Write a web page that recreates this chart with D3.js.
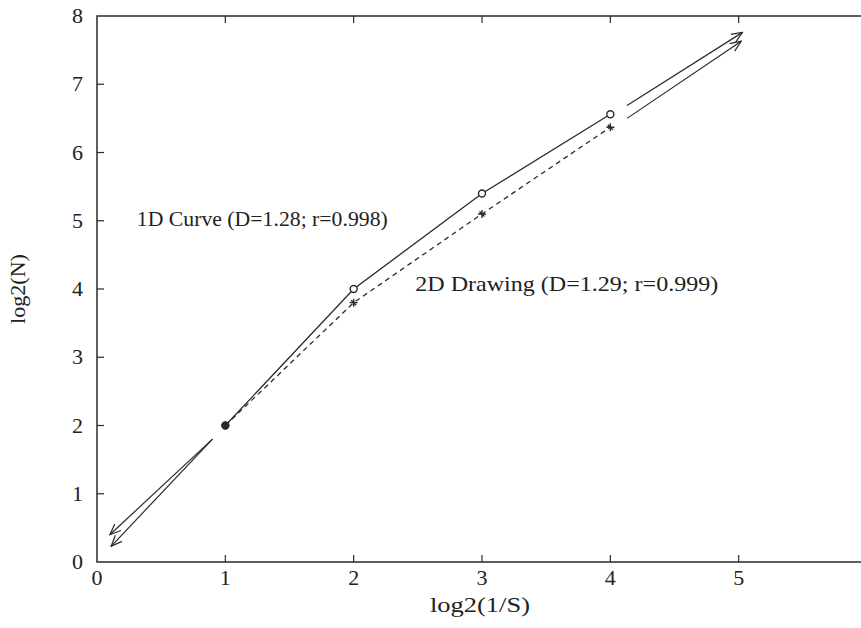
<!DOCTYPE html>
<html>
<head>
<meta charset="utf-8">
<script src="https://cdn.jsdelivr.net/npm/d3@7"></script>
<style>
  html, body { margin: 0; padding: 0; background: #fff; }
  svg { display: block; }
  .tick-label, .axis-title, .note { font-family: "Liberation Serif", "DejaVu Serif", serif; fill: #222; }
</style>
</head>
<body>
<svg id="chart"></svg>
<script>
const WIDTH = 861;
const HEIGHT = 628;

// values
const xTicks = [0, 1, 2, 3, 4, 5];
const yTicks = [0, 1, 2, 3, 4, 5, 6, 7, 8];
const scales = [1, 2, 3, 4];
const curve1D = [2, 4, 5.4, 6.56];
const drawing2D = [2, 3.8, 5.1, 6.37];
// extrapolated fit segments, [x1, y1, x2, y2], arrow at the second end
const fitArrows = [
  [4.13, 6.69, 5.03, 7.76],
  [4.13, 6.50, 5.02, 7.63],
  [0.90, 1.80, 0.10, 0.40],
  [0.90, 1.80, 0.11, 0.23]
];
const notes = [
  { text: "1D Curve (D=1.28; r=0.998)", x: 0.31, y: 4.93, len: 251 },
  { text: "2D Drawing (D=1.29; r=0.999)", x: 2.48, y: 3.97, len: 303 }
];

const svg = d3.select("#chart").attr("width", WIDTH).attr("height", HEIGHT);
const ink = "#2a2a2a";

const x = d3.scaleLinear().domain([0, 6]).range([97, 867]);
const y = d3.scaleLinear().domain([0, 8]).range([562, 16]);

svg.append("defs").append("marker")
  .attr("id", "head")
  .attr("viewBox", "0 -6 12 12")
  .attr("refX", 11)
  .attr("refY", 0)
  .attr("markerWidth", 12)
  .attr("markerHeight", 12)
  .attr("markerUnits", "userSpaceOnUse")
  .attr("orient", "auto")
  .append("path")
  .attr("d", "M0,-4.5L11,0L0,4.5")
  .attr("fill", "none")
  .attr("stroke", ink)
  .attr("stroke-width", 1.2);

// frame
svg.append("rect")
  .attr("x", x(0)).attr("y", y(8))
  .attr("width", x(6) - x(0)).attr("height", y(0) - y(8))
  .attr("fill", "none").attr("stroke", ink).attr("stroke-width", 1.5);

// ticks (inward, mirrored on top)
const tickLen = 7;
const ticks = svg.append("g").attr("stroke", ink).attr("stroke-width", 1.2);
ticks.selectAll("line.xb").data(xTicks.slice(1)).join("line")
  .attr("x1", d => x(d)).attr("x2", d => x(d))
  .attr("y1", y(0)).attr("y2", y(0) - tickLen);
ticks.selectAll("line.xt").data(xTicks.slice(1)).join("line")
  .attr("x1", d => x(d)).attr("x2", d => x(d))
  .attr("y1", y(8)).attr("y2", y(8) + tickLen);
ticks.selectAll("line.yl").data(yTicks.slice(1, -1)).join("line")
  .attr("x1", x(0)).attr("x2", x(0) + tickLen)
  .attr("y1", d => y(d)).attr("y2", d => y(d));

svg.selectAll("text.xtick").data(xTicks).join("text")
  .attr("class", "tick-label")
  .attr("x", d => x(d)).attr("y", y(0) + 23)
  .attr("text-anchor", "middle")
  .attr("font-size", 22)
  .text(d => d);

svg.selectAll("text.ytick").data(yTicks).join("text")
  .attr("class", "tick-label")
  .attr("x", x(0) - 14).attr("y", d => y(d) + 7)
  .attr("text-anchor", "end")
  .attr("font-size", 22)
  .text(d => d);

svg.append("text").attr("class", "axis-title")
  .attr("x", 430).attr("y", 612)
  .attr("font-size", 21)
  .attr("textLength", 100).attr("lengthAdjust", "spacingAndGlyphs")
  .text("log2(1/S)");

svg.append("text").attr("class", "axis-title")
  .attr("transform", `translate(25,${y(4)}) rotate(-90)`)
  .attr("x", -35)
  .attr("font-size", 21)
  .attr("textLength", 70).attr("lengthAdjust", "spacingAndGlyphs")
  .text("log2(N)");

// fit extrapolations
svg.selectAll("line.fit").data(fitArrows).join("line")
  .attr("x1", d => x(d[0])).attr("y1", d => y(d[1]))
  .attr("x2", d => x(d[2])).attr("y2", d => y(d[3]))
  .attr("stroke", ink).attr("stroke-width", 1.2)
  .attr("marker-end", "url(#head)");

const line = d3.line().x(d => x(d[0])).y(d => y(d[1]));
const pts1 = scales.map((s, i) => [s, curve1D[i]]);
const pts2 = scales.map((s, i) => [s, drawing2D[i]]);

svg.append("path").datum(pts2)
  .attr("d", line).attr("fill", "none")
  .attr("stroke", ink).attr("stroke-width", 1.3)
  .attr("stroke-dasharray", "5,4");

svg.append("path").datum(pts1)
  .attr("d", line).attr("fill", "none")
  .attr("stroke", ink).attr("stroke-width", 1.3);

svg.selectAll("path.plus").data(pts2).join("path")
  .attr("d", d => `M${x(d[0]) - 4},${y(d[1])}H${x(d[0]) + 4}M${x(d[0])},${y(d[1]) - 4}V${y(d[1]) + 4}M${x(d[0]) - 2.5},${y(d[1]) - 2.5}L${x(d[0]) + 2.5},${y(d[1]) + 2.5}`)
  .attr("stroke", ink).attr("stroke-width", 1.4).attr("fill", "none");

svg.selectAll("circle.pt").data(pts1).join("circle")
  .attr("cx", d => x(d[0])).attr("cy", d => y(d[1])).attr("r", 3.5)
  .attr("fill", (d, i) => i === 0 ? ink : "#fff")
  .attr("stroke", ink).attr("stroke-width", 1.4);

svg.selectAll("text.note").data(notes).join("text")
  .attr("class", "note")
  .attr("x", d => x(d.x)).attr("y", d => y(d.y))
  .attr("font-size", 21)
  .attr("textLength", d => d.len).attr("lengthAdjust", "spacingAndGlyphs")
  .text(d => d.text);
</script>
</body>
</html>
